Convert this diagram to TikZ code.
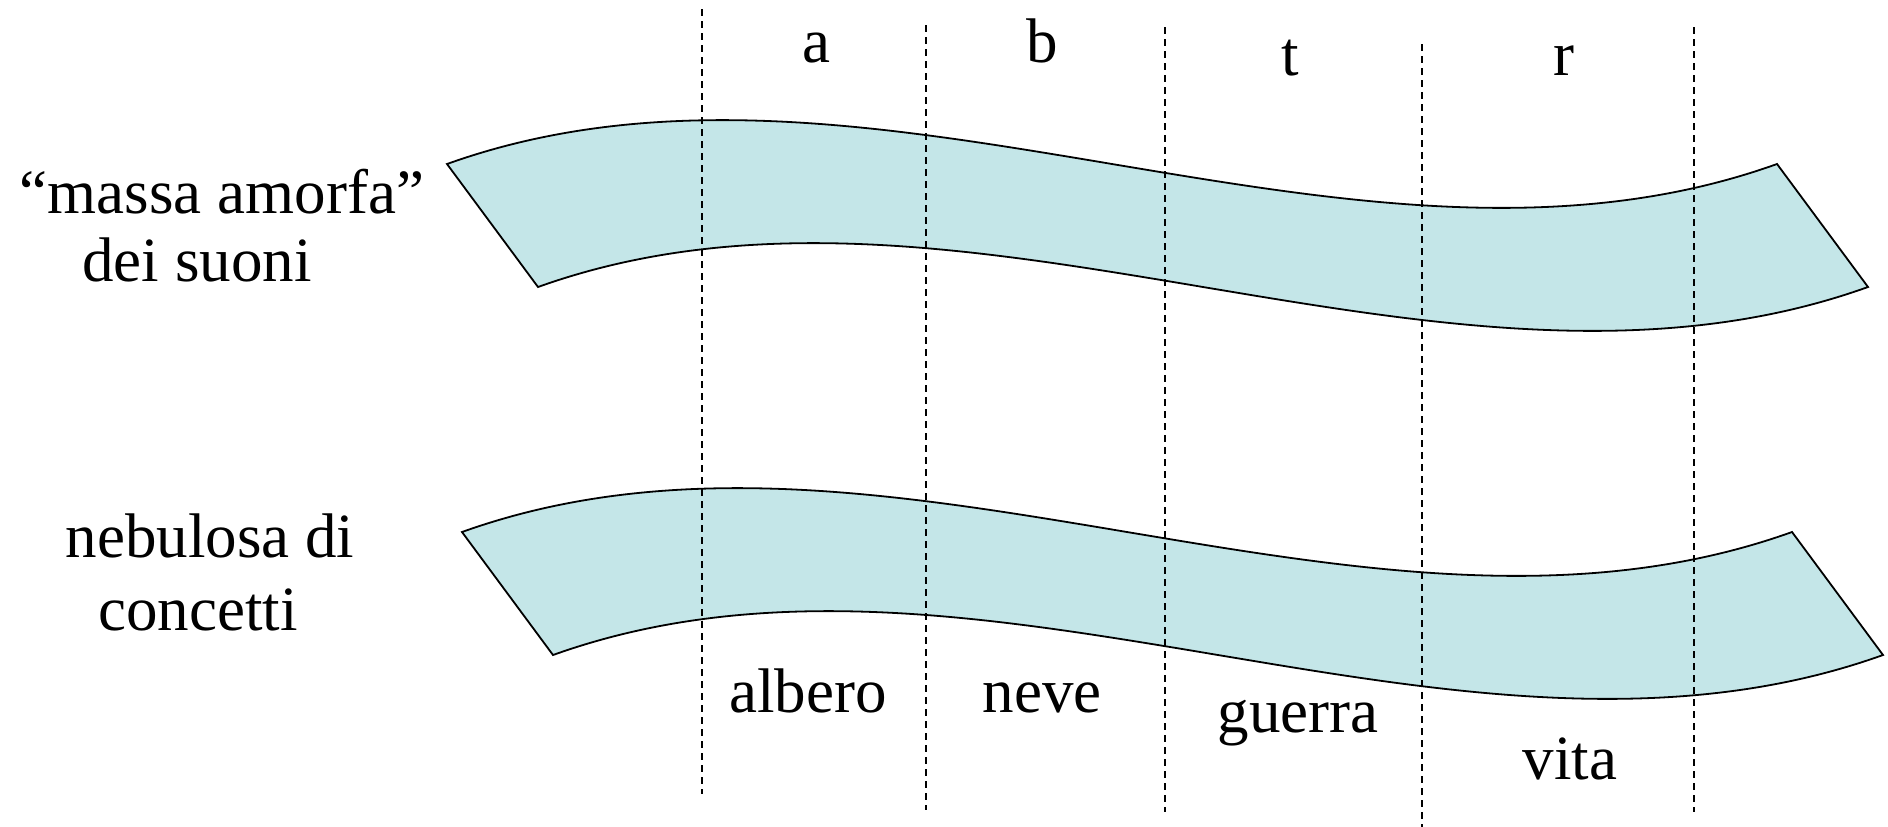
\documentclass[tikz,border=0pt]{standalone}
\usepackage{fontspec}
\setmainfont{Liberation Serif}
\definecolor{bandfill}{RGB}{196,230,232}

\begin{document}
\begin{tikzpicture}[x=0.5pt,y=-0.5pt,
  band/.style={draw=black, line width=0.9pt, fill=bandfill},
  cut/.style={line width=0.8pt, dash pattern=on 3.5pt off 2.5pt},
  lbl/.style={anchor=base, inner sep=0pt, font=\fontsize{31.5}{38}\selectfont}]
  \useasboundingbox (0,0) rectangle (1888,826);
  % sound band and concept band (same shape, shifted)
  \draw[band] (447,164) .. controls (871,12) and (1353,316) .. (1777,164)
    -- (1868,287) .. controls (1444,439) and (962,135) .. (538,287) -- cycle;
  \draw[band, shift={(15,368)}] (447,164) .. controls (871,12) and (1353,316) .. (1777,164)
    -- (1868,287) .. controls (1444,439) and (962,135) .. (538,287) -- cycle;
  % cuts
  \foreach \x/\ya/\yb in {702/9/794, 926/25/810, 1165/27/812, 1422/44/829, 1694/27/812}
    \draw[cut] (\x,\ya) -- (\x,\yb);
  \node[lbl] (massa) at (222,213) {“massa amorfa”};
  \node[lbl] (suoni) at (197,281) {dei suoni};
  \node[lbl] (nebulosa) at (210,557) {nebulosa di};
  \node[lbl] (concetti) at (198,630) {concetti};
  \node[lbl] (sa) at (816,62) {a};
  \node[lbl] (sb) at (1042,62) {b};
  \node[lbl] (st) at (1290,75) {t};
  \node[lbl] (sr) at (1564,75) {r};
  \node[lbl] (albero) at (808,712) {albero};
  \node[lbl] (neve) at (1042,712) {neve};
  \node[lbl] (guerra) at (1298,732) {guerra};
  \node[lbl] (vita) at (1570,779) {vita};
\end{tikzpicture}
\end{document}
